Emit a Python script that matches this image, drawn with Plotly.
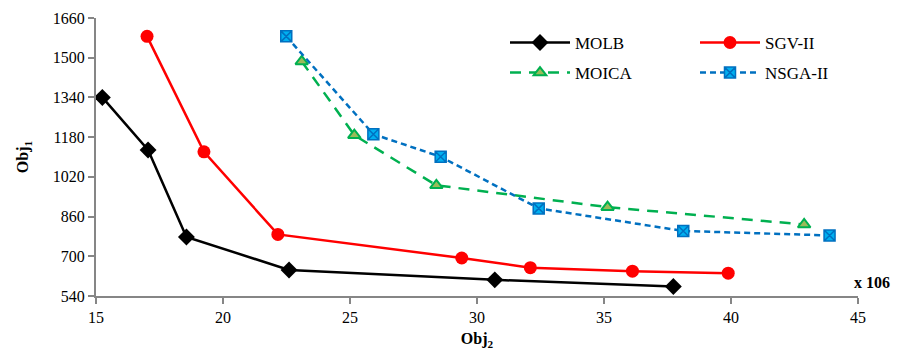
import plotly.graph_objects as go

molb_x = [15.25, 17.05, 18.56, 22.6, 30.7, 37.73]
molb_y = [1340, 1128, 778, 645, 605, 578]
sgv_x = [17.01, 19.25, 22.16, 29.4, 32.1, 36.12, 39.89]
sgv_y = [1586, 1121, 788, 693, 654, 640, 632]
moica_x = [23.1, 25.17, 28.4, 35.14, 42.88]
moica_y = [1485, 1188, 986, 898, 828]
nsga_x = [22.49, 25.92, 28.57, 32.43, 38.12, 43.88]
nsga_y = [1586, 1192, 1101, 893, 802, 784]

x_ticks = [15, 20, 25, 30, 35, 40, 45]
y_ticks = [540, 700, 860, 1020, 1180, 1340, 1500, 1660]

FONT = "Liberation Serif"
AX = "#868686"

fig = go.Figure()
fig.add_trace(go.Scatter(x=molb_x, y=molb_y, name="MOLB", mode="lines+markers",
                         line=dict(color="black", width=2.5),
                         marker=dict(symbol="diamond", size=13, color="black"),
                         legend="legend", legendgroup="a"))
fig.add_trace(go.Scatter(x=moica_x, y=moica_y, name="MOICA", mode="lines+markers",
                         line=dict(color="#00B050", width=2.5, dash="11px,8px"),
                         marker=dict(symbol="triangle-up", size=11, color="#9BBB59",
                                     line=dict(color="#00B050", width=2)),
                         legend="legend", legendgroup="b"))
fig.add_trace(go.Scatter(x=sgv_x, y=sgv_y, name="SGV-II", mode="lines+markers",
                         line=dict(color="#FF0000", width=2.5),
                         marker=dict(symbol="circle", size=13, color="#FF0000"),
                         legend="legend2", legendgroup="c"))
fig.add_trace(go.Scatter(x=nsga_x, y=nsga_y, name="NSGA-II", mode="lines+markers",
                         line=dict(color="#0070C0", width=2.5, dash="6px,4px"),
                         marker=dict(symbol="square-x", size=11, color="#00B0F0",
                                     line=dict(color="#0070C0", width=1.5)),
                         legend="legend2", legendgroup="d"))

leg_common = dict(font=dict(family=FONT, size=17, color="black"), bgcolor="rgba(0,0,0,0)",
                  orientation="v", yanchor="top", xanchor="left", tracegroupgap=5,
                  itemwidth=60)
fig.update_layout(
    width=900, height=354,
    margin=dict(l=96, r=42, t=18, b=58, autoexpand=False),
    paper_bgcolor="white", plot_bgcolor="white",
    font=dict(family=FONT, size=15, color="black"),
    legend=dict(x=(505 - 96) / 762, y=0.975, **leg_common),
    legend2=dict(x=(695 - 96) / 762, y=0.975, **leg_common),
    xaxis=dict(range=[15, 45], tickvals=x_ticks, ticktext=[str(v) for v in x_ticks],
               showgrid=False, zeroline=False, showline=True, linecolor=AX, linewidth=2,
               ticks="outside", ticklen=6, tickcolor=AX, tickwidth=1.5, automargin=False,
               tickfont=dict(family=FONT, size=16),
               title=dict(text="<b>Obj<sub>2</sub></b>", font=dict(family=FONT, size=16), standoff=8)),
    yaxis=dict(range=[540, 1660], tickvals=y_ticks, ticktext=[str(v) for v in y_ticks],
               showgrid=False, zeroline=False, showline=True, linecolor=AX, linewidth=2,
               ticks="outside", ticklen=6, tickcolor=AX, tickwidth=1.5, automargin=False,
               tickfont=dict(family=FONT, size=16),
               title=dict(text="<b>Obj<sub>1</sub></b>", font=dict(family=FONT, size=16), standoff=20)),
    annotations=[dict(text="<b>x 106</b>", xref="paper", yref="paper", x=1, y=(295.5 - 282) / 277,
                      xanchor="left", yanchor="middle", xshift=-6, showarrow=False,
                      font=dict(family=FONT, size=16, color="black"))],
)
fig.write_html("out.html", config={"displayModeBar": False},
               post_script="document.body.style.margin='0';")
